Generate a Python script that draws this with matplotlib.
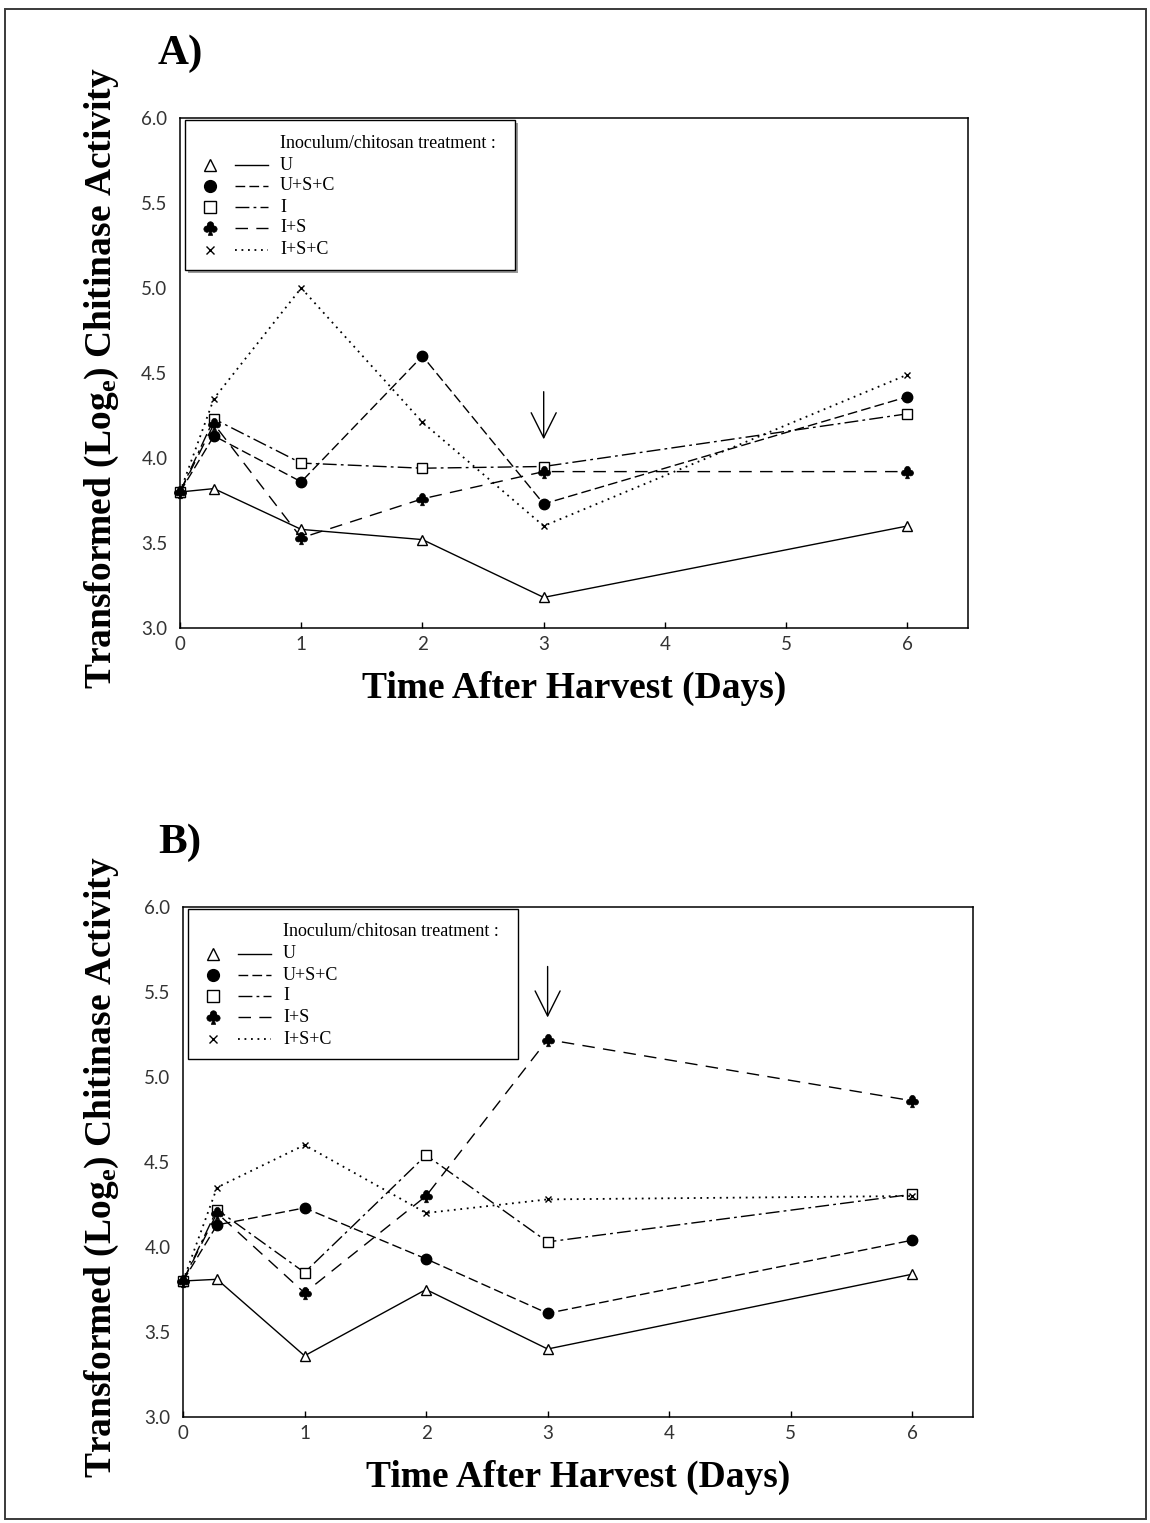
import numpy as np
import matplotlib
matplotlib.use("Agg")
import matplotlib.pyplot as plt
from matplotlib.path import Path
from matplotlib.lines import Line2D
from matplotlib.patches import Rectangle

plt.rcParams["font.family"] = ["Liberation Serif", "DejaVu Sans"]
plt.rcParams["mathtext.fontset"] = "custom"
plt.rcParams["mathtext.rm"] = "Liberation Serif"
plt.rcParams["mathtext.bf"] = "Liberation Serif:bold"
plt.rcParams["mathtext.it"] = "Liberation Serif:italic"

# ---- data -------------------------------------------------------------
days = [0, 0.28, 1, 2, 3, 6]
treatments = ["U", "U+S+C", "I", "I+S", "I+S+C"]
x_ticks = [0, 1, 2, 3, 4, 5, 6]
y_ticks = [3.0, 3.5, 4.0, 4.5, 5.0, 5.5, 6.0]

a_u = [3.80, 3.82, 3.58, 3.52, 3.18, 3.60]
a_usc = [3.80, 4.13, 3.86, 4.60, 3.73, 4.36]
a_i = [3.80, 4.23, 3.97, 3.94, 3.95, 4.26]
a_is = [3.80, 4.20, 3.53, 3.76, 3.92, 3.92]
a_isc = [3.80, 4.35, 5.00, 4.21, 3.60, 4.49]

b_u = [3.80, 3.81, 3.36, 3.75, 3.40, 3.84]
b_usc = [3.80, 4.13, 4.23, 3.93, 3.61, 4.04]
b_i = [3.80, 4.22, 3.85, 4.54, 4.03, 4.31]
b_is = [3.80, 4.20, 3.73, 4.30, 5.22, 4.86]
b_isc = [3.80, 4.35, 4.60, 4.20, 4.28, 4.30]

# arrow marking day 3 (x, y_start, y_end)
a_arrow = (3, 4.39, 4.11)
b_arrow = (3, 5.65, 5.35)

# ---- club-suit marker ---------------------------------------------------
def _signed_area(v):
    x, y = v[:, 0], v[:, 1]
    return np.sum(x * np.roll(y, -1) - np.roll(x, -1) * y)

_circ = [Path.circle((0, 0.34), 0.3),
         Path.circle((-0.33, -0.06), 0.3),
         Path.circle((0.33, -0.06), 0.3)]
_stem_v = np.array([(0, 0.0), (-0.2, -0.66), (0.2, -0.66)])
if np.sign(_signed_area(_stem_v)) != np.sign(_signed_area(_circ[0].vertices)):
    _stem_v = _stem_v[::-1]
_stem = Path(np.vstack([_stem_v, _stem_v[:1]]),
             [Path.MOVETO, Path.LINETO, Path.LINETO, Path.CLOSEPOLY])
CLUB = Path.make_compound_path(*_circ, _stem)

styles = {
    "U": dict(marker="^", mfc="white", mec="black", ms=7, mew=1.0, lw=1.0, ls="-"),
    "U+S+C": dict(marker="o", mfc="black", mec="black", ms=7.5, mew=1.0, lw=1.0, dashes=(7, 3)),
    "I": dict(marker="s", mfc="white", mec="black", ms=7, mew=1.0, lw=1.0, dashes=(10, 3, 2, 3)),
    "I+S": dict(marker=CLUB, mfc="black", mec="black", ms=9, mew=0.5, lw=1.0, dashes=(9, 6)),
    "I+S+C": dict(marker="x", mfc="black", mec="black", ms=5, mew=1.0, lw=1.3, dashes=(1, 2.6)),
}

W, H = 1150, 1523
fig = plt.figure(figsize=(W / 100, H / 100), dpi=100)

# page frame
fig.add_artist(Rectangle((5 / W, 1 - 1519 / H), (1146 - 5) / W, (1519 - 9) / H,
                         transform=fig.transFigure, fill=False,
                         edgecolor="#3a3a3a", linewidth=1.4))


def line_kwargs(st):
    kw = dict(color="black", linewidth=st["lw"])
    if "dashes" in st:
        kw["dashes"] = st["dashes"]
    else:
        kw["linestyle"] = st["ls"]
    return kw


def make_panel(rect_px, series, arrow, letter, shadow):
    left, top, right, bottom = rect_px
    ax = fig.add_axes([left / W, 1 - bottom / H, (right - left) / W, (bottom - top) / H])
    wpx, hpx = right - left, bottom - top
    for name, vals in zip(treatments, series):
        st = styles[name]
        ax.plot(days, vals, clip_on=False,
                marker=st["marker"], markerfacecolor=st["mfc"],
                markeredgecolor=st["mec"], markersize=st["ms"],
                markeredgewidth=st["mew"], **line_kwargs(st))

    ax.set_xlim(0, 6.5)
    ax.set_ylim(3.0, 6.0)
    ax.set_xticks(x_ticks)
    ax.set_xticklabels([str(t) for t in x_ticks])
    ax.set_yticks(y_ticks)
    ax.set_yticklabels([f"{t:.1f}" for t in y_ticks])
    ax.tick_params(axis="x", direction="in", length=4, width=1.0, pad=6)
    ax.tick_params(axis="y", direction="in", length=0, pad=9)
    for lab in ax.get_xticklabels() + ax.get_yticklabels():
        lab.set_fontfamily("Lato")
        lab.set_fontsize(13.5)
        lab.set_color("#333333")
    for sp in ax.spines.values():
        sp.set_linewidth(1.1)

    ax.set_xlabel("Time After Harvest (Days)", fontsize=27, fontweight="bold")
    ax.xaxis.set_label_coords(0.5, -43 / hpx)
    ax.set_ylabel(r"Transformed (Log$_{\mathbf{e}}$) Chitinase Activity",
                  fontsize=27, fontweight="bold")
    ax.yaxis.set_label_coords((121 - left) / wpx, 0.49)

    # day-3 arrow
    ax.annotate("", xy=(arrow[0], arrow[2]), xytext=(arrow[0], arrow[1]),
                arrowprops=dict(arrowstyle="->,head_length=1.8,head_width=0.9",
                                mutation_scale=10, lw=1.0, color="black",
                                shrinkA=0, shrinkB=0))

    # panel letter
    fig.text(158 / W, 1 - (top - 64) / H, letter, fontsize=31, fontweight="bold",
             ha="left", va="center")

    # legend box (offsets in pixels from the axes' upper-left corner)
    def axc(dx, dy):
        return dx / wpx, 1 - dy / hpx

    bx0, by0, bx1, by1 = 5, 2, 335, 152
    if shadow:
        sx, sy = axc(bx0 + 3, by1 + 3)
        ax.add_patch(Rectangle((sx, sy), (bx1 - bx0) / wpx, (by1 - by0) / hpx,
                               transform=ax.transAxes, facecolor="#9a9a9a",
                               edgecolor="none", zorder=9, clip_on=False))
    x0, y0 = axc(bx0, by1)
    ax.add_patch(Rectangle((x0, y0), (bx1 - bx0) / wpx, (by1 - by0) / hpx,
                           transform=ax.transAxes, facecolor="white",
                           edgecolor="black", linewidth=1.0, zorder=10, clip_on=False))
    tx, ty = axc(100, 25)
    ax.text(tx, ty, "Inoculum/chitosan treatment :", transform=ax.transAxes,
            fontsize=13, ha="left", va="center", zorder=11)
    rows = [47, 68, 89, 110, 132]
    for name, dy in zip(treatments, rows):
        st = styles[name]
        mx, my = axc(30, dy)
        ax.add_line(Line2D([mx], [my], transform=ax.transAxes, linestyle="none",
                           marker=st["marker"], markerfacecolor=st["mfc"],
                           markeredgecolor=st["mec"], markersize=st["ms"] + 1,
                           markeredgewidth=st["mew"], zorder=11, clip_on=False))
        lx0, ly = axc(55, dy)
        lx1, _ = axc(88, dy)
        ax.add_line(Line2D([lx0, lx1], [ly, ly], transform=ax.transAxes,
                           zorder=11, clip_on=False, **line_kwargs(st)))
        px, py = axc(100, dy)
        ax.text(px, py, name, transform=ax.transAxes, fontsize=13,
                ha="left", va="center", zorder=11)
    return ax


make_panel((180, 118, 968, 628), [a_u, a_usc, a_i, a_is, a_isc], a_arrow, "A)", True)
make_panel((183, 907, 973, 1417), [b_u, b_usc, b_i, b_is, b_isc], b_arrow, "B)", False)

fig.savefig("out.png", dpi=100)
